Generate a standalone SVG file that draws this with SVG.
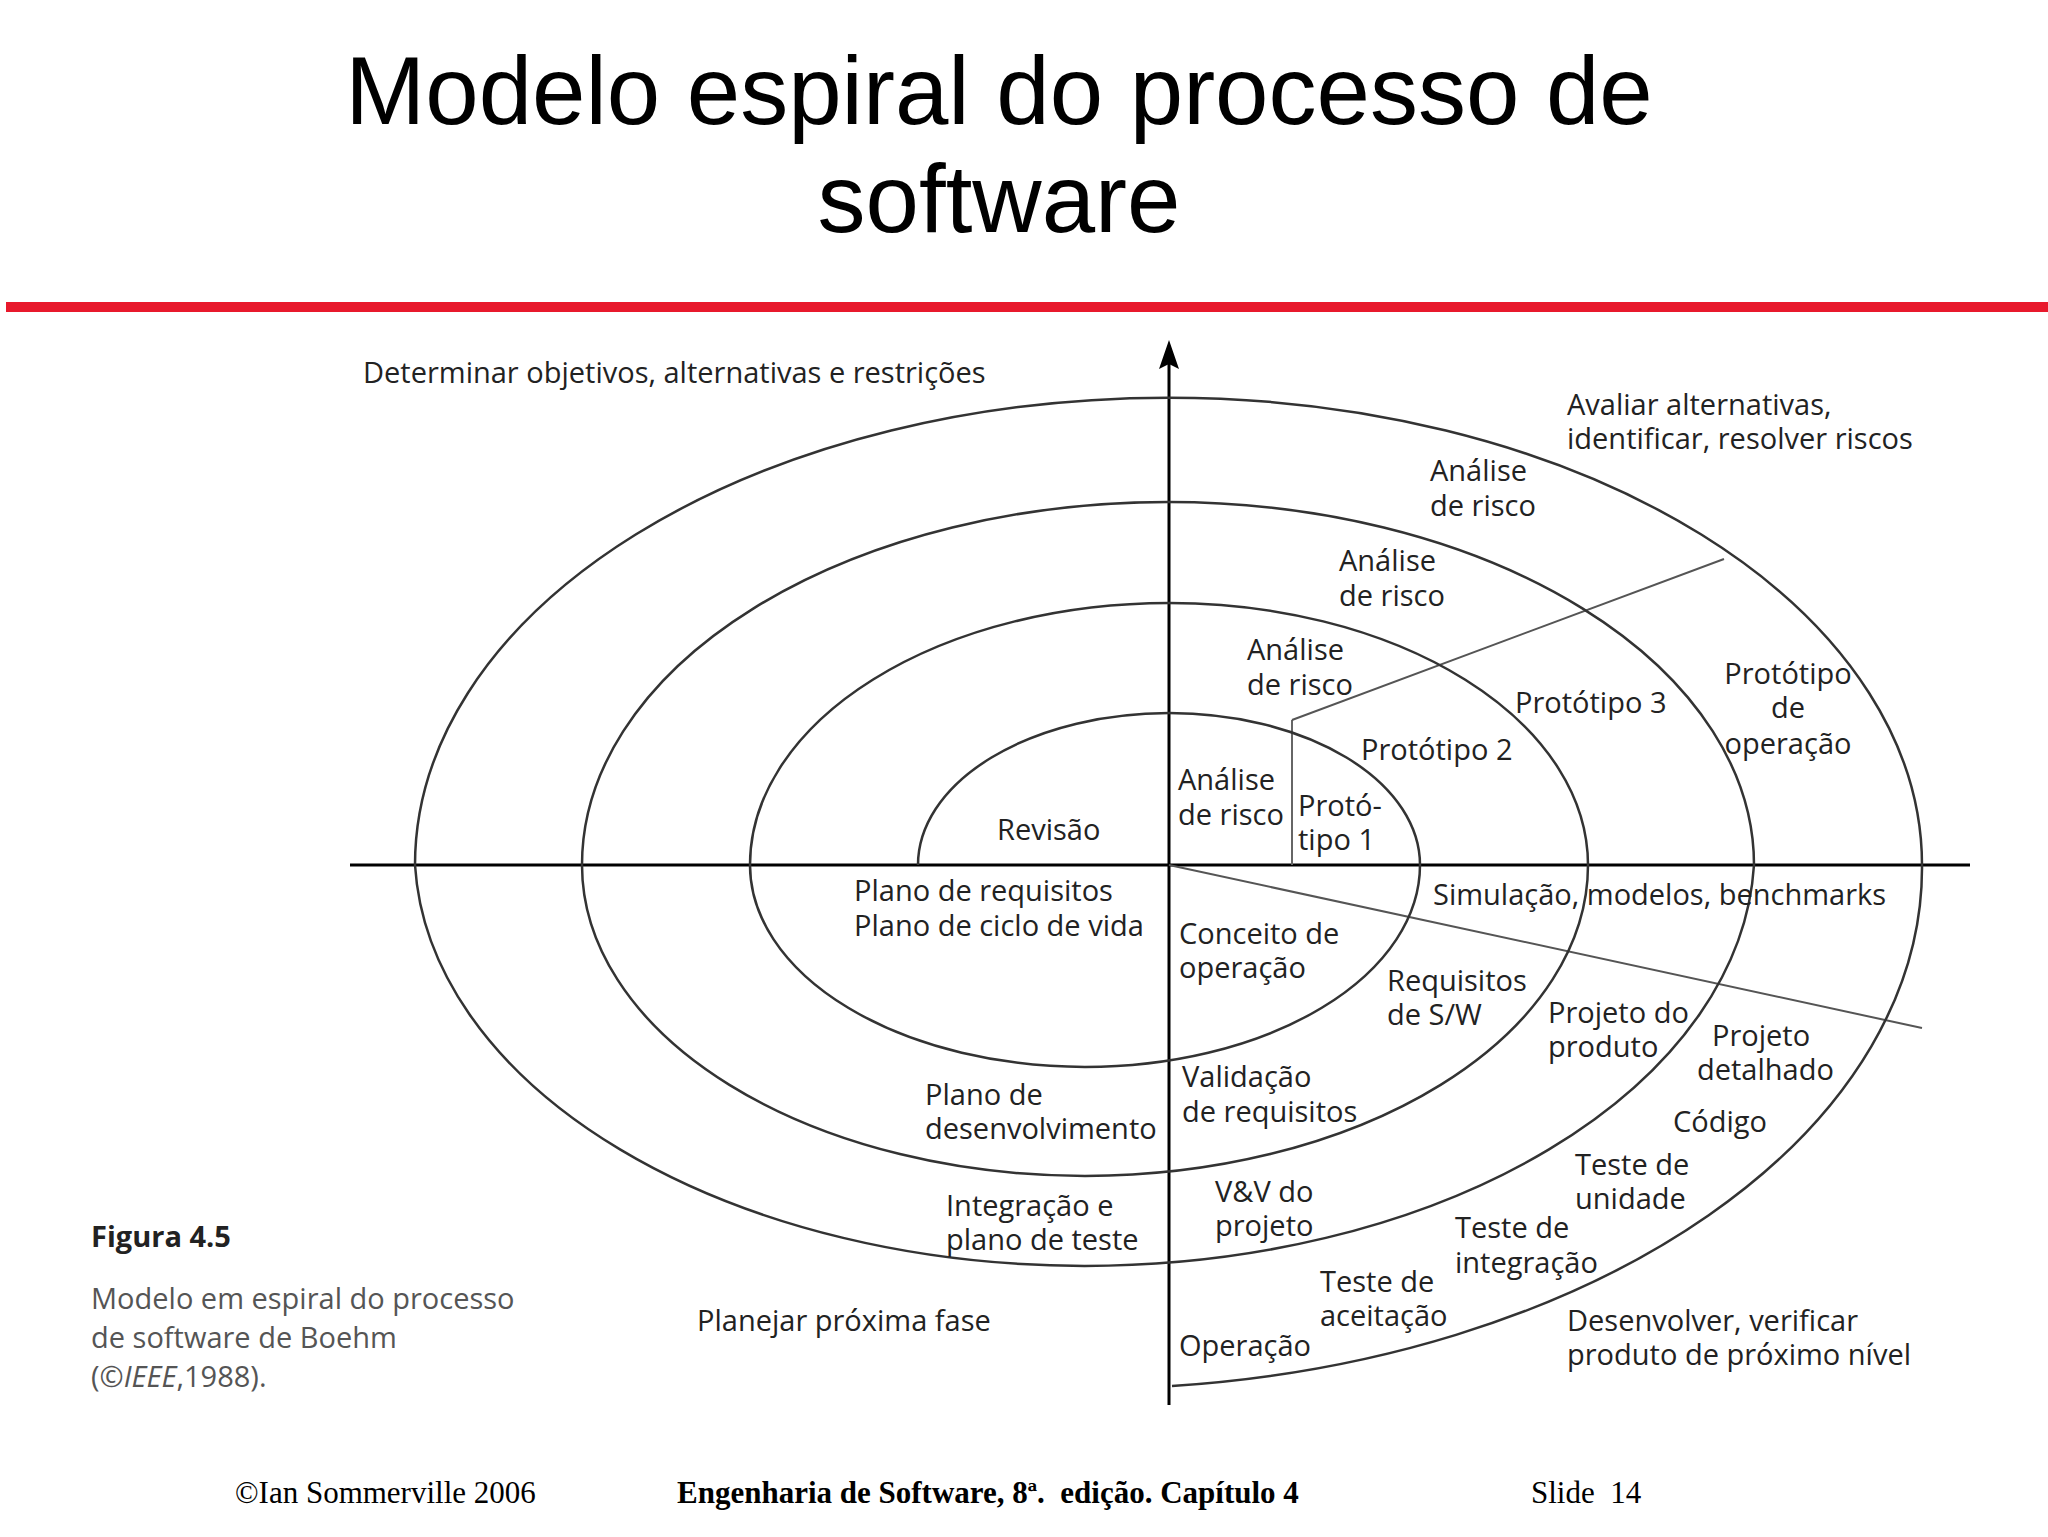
<svg xmlns="http://www.w3.org/2000/svg" width="2048" height="1537" viewBox="0 0 2048 1537">
<style>
.t{font-family:"Open Sans","DejaVu Sans",sans-serif;font-size:29px;fill:#222}
.c{fill:none;stroke:#333;stroke-width:2.5}
.title{font-family:"Liberation Sans",Arial,sans-serif;font-size:96px;fill:#000;text-anchor:middle}
.f{font-family:"Liberation Serif","Times New Roman",serif;font-size:31px;fill:#000}
.g{font-family:"Open Sans","DejaVu Sans",sans-serif;font-size:29px;fill:#555}
</style>
<rect width="2048" height="1537" fill="#fff"/>
<text class="title" x="999" y="124">Modelo espiral do processo de</text>
<text class="title" x="999" y="232">software</text>
<rect x="6" y="302" width="2042" height="10" fill="#e8192c"/>
<g id="connectors">
<line x1="1169" y1="1405" x2="1169" y2="360" stroke="#000" stroke-width="3"/>
<path d="M1169,340 L1179,369 L1169,364 L1159,369 Z" fill="#000"/>
<line x1="350" y1="865" x2="1970" y2="865" stroke="#000" stroke-width="3"/>
<line x1="1292" y1="865" x2="1292" y2="720" stroke="#666" stroke-width="2"/>
<line x1="1292" y1="720" x2="1724" y2="559" stroke="#555" stroke-width="2"/>
<line x1="1169" y1="865" x2="1922" y2="1028" stroke="#555" stroke-width="2"/>
</g>
<g id="spiral">
<path class="c" d="M918,865 A251,152 0 0 1 1420,865 A335,202 0 0 1 750,865 A419,262 0 0 1 1588,865 A503,311 0 0 1 582,865 A586,363 0 0 1 1754,865 A670,417 0 0 1 415,865 A753,467 0 0 1 1922,865 A837,521 0 0 1 1172,1386"/>
</g>
<g id="labels">
<text class="t" x="363" y="383">Determinar objetivos, alternativas e restrições</text>
<text class="t" x="1567" y="415">Avaliar alternativas,</text>
<text class="t" x="1567" y="449">identificar, resolver riscos</text>
<text class="t" x="1430" y="481">Análise</text><text class="t" x="1430" y="516">de risco</text>
<text class="t" x="1339" y="571">Análise</text><text class="t" x="1339" y="606">de risco</text>
<text class="t" x="1247" y="660">Análise</text><text class="t" x="1247" y="695">de risco</text>
<text class="t" x="1178" y="790">Análise</text><text class="t" x="1178" y="825">de risco</text>
<text class="t" x="1298" y="816">Protó-</text><text class="t" x="1298" y="850">tipo 1</text>
<text class="t" x="1361" y="760">Protótipo 2</text>
<text class="t" x="1515" y="713">Protótipo 3</text>
<text class="t" x="1788" y="684" text-anchor="middle">Protótipo</text>
<text class="t" x="1788" y="718" text-anchor="middle">de</text>
<text class="t" x="1788" y="754" text-anchor="middle">operação</text>
<text class="t" x="997" y="840">Revisão</text>
<text class="t" x="854" y="901">Plano de requisitos</text>
<text class="t" x="854" y="936">Plano de ciclo de vida</text>
<text class="t" x="1433" y="905">Simulação, modelos, benchmarks</text>
<text class="t" x="1179" y="944">Conceito de</text><text class="t" x="1179" y="978">operação</text>
<text class="t" x="1387" y="991">Requisitos</text><text class="t" x="1387" y="1025">de S/W</text>
<text class="t" x="1548" y="1023">Projeto do</text><text class="t" x="1548" y="1057">produto</text>
<text class="t" x="1712" y="1046">Projeto</text><text class="t" x="1697" y="1080">detalhado</text>
<text class="t" x="1673" y="1132">Código</text>
<text class="t" x="925" y="1105">Plano de</text><text class="t" x="925" y="1139">desenvolvimento</text>
<text class="t" x="1182" y="1087">Validação</text><text class="t" x="1182" y="1122">de requisitos</text>
<text class="t" x="1575" y="1175">Teste de</text><text class="t" x="1575" y="1209">unidade</text>
<text class="t" x="1215" y="1202">V&amp;V do</text><text class="t" x="1215" y="1236">projeto</text>
<text class="t" x="946" y="1216">Integração e</text><text class="t" x="946" y="1250">plano de teste</text>
<text class="t" x="1455" y="1238">Teste de</text><text class="t" x="1455" y="1273">integração</text>
<text class="t" x="1320" y="1292">Teste de</text><text class="t" x="1320" y="1326">aceitação</text>
<text class="t" x="697" y="1331">Planejar próxima fase</text>
<text class="t" x="1179" y="1356">Operação</text>
<text class="t" x="1567" y="1331">Desenvolver, verificar</text>
<text class="t" x="1567" y="1365">produto de próximo nível</text>
</g>
<g id="caption">
<text class="t" x="91" y="1247" font-weight="bold" font-size="31">Figura 4.5</text>
<text class="g" x="91" y="1309">Modelo em espiral do processo</text>
<text class="g" x="91" y="1348">de software de Boehm</text>
<text class="g" x="91" y="1387">(©<tspan font-style="italic">IEEE</tspan>,1988).</text>
</g>
<g id="footer">
<text class="f" x="235" y="1503">©Ian Sommerville 2006</text>
<text class="f" x="677" y="1503" font-weight="bold" xml:space="preserve">Engenharia de Software, 8ª.  edição. Capítulo 4</text>
<text class="f" x="1531" y="1503" xml:space="preserve">Slide  14</text>
</g>
</svg>
